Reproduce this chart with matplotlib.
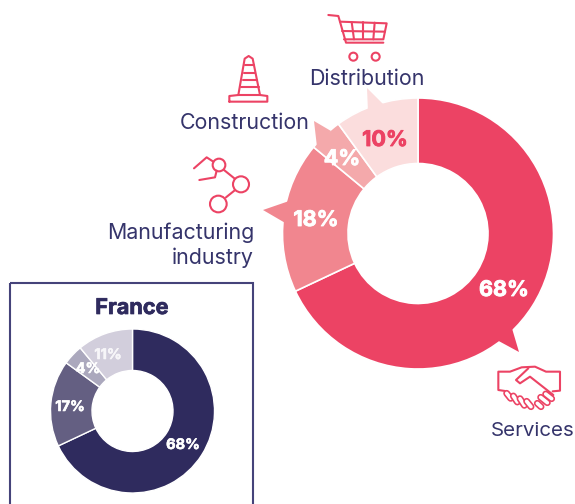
import matplotlib
matplotlib.use("Agg")
import matplotlib.pyplot as plt
import matplotlib.patheffects as pe
from matplotlib.patches import Circle, Polygon, Rectangle

W, H = 575, 504
PINK = "#EC4364"
NAVY = "#2F2B5E"
TEXT = "#35346B"
FONT = "Inter"

main_labels = ["Services", "Manufacturing industry", "Construction", "Distribution"]
main_values = [68, 18, 4, 10]
main_colors = ["#EC4364", "#F1868F", "#F4A9AB", "#FBDDDD"]
france_values = [68, 17, 4, 11]
france_colors = ["#2F2B5E", "#645F82", "#ABA8BD", "#D2CEDC"]

fig = plt.figure(figsize=(W / 100, H / 100), dpi=100, facecolor="white")


def donut(cx, cy, ro, ri, values, colors, lw):
    ax = fig.add_axes([(cx - ro) / W, 1 - (cy + ro) / H, 2 * ro / W, 2 * ro / H])
    ax.pie(values, colors=colors, startangle=90, counterclock=False, radius=1,
           wedgeprops=dict(width=1 - ri / ro, edgecolor="white", linewidth=lw))
    ax.set_xlim(-1, 1)
    ax.set_ylim(-1, 1)
    ax.set_aspect("auto")
    ax.axis("off")
    return ax


ov = fig.add_axes([0, 0, 1, 1], zorder=0)
ov.set_xlim(0, W)
ov.set_ylim(H, 0)
ov.axis("off")
ov.add_patch(Rectangle((10, 283), 243, 240, fill=False, ec="#45437A", lw=1.5, clip_on=False))

donut(418, 233.5, 135.5, 70, main_values, main_colors, 1.2)
donut(132.5, 411, 82, 40.5, france_values, france_colors, 1.0)

top = fig.add_axes([0, 0, 1, 1], zorder=5)
top.set_xlim(0, W)
top.set_ylim(H, 0)
top.axis("off")
top.patch.set_alpha(0)

# Speech-bubble pointers, joined onto the ring
for pts, col in [
    ([(367, 88), (368, 112), (385, 106)], main_colors[3]),
    ([(314, 121), (317, 147), (331, 131)], main_colors[2]),
    ([(263, 210), (287, 224), (292, 200)], main_colors[1]),
    ([(519, 352), (495, 339), (511, 325)], main_colors[0]),
]:
    top.add_patch(Polygon(pts, closed=True, fc=col, ec="none"))

# Percent labels
for x, y, s, c, fs, sw in [
    (504, 290, "68%", "white", 15.5, 0.6), (316, 220, "18%", "white", 15.5, 0.6),
    (342, 159, "4%", "white", 15.5, 0.6), (385, 140, "10%", PINK, 15.5, 0.6),
    (183, 445, "68%", "white", 10.5, 0.4), (70, 407, "17%", "white", 10.5, 0.4),
    (88, 369, "4%", "white", 10.5, 0.4), (108, 355, "11%", "#F7F6F9", 10.5, 0.4),
]:
    top.text(x, y, s, color=c, fontsize=fs, fontweight="bold", family=FONT, ha="center", va="center",
             path_effects=[pe.withStroke(linewidth=sw, foreground=c)])

# Category labels
LFS = 15.4
for x, y, s, fs in [
    (367, 79, "Distribution", LFS), (245, 123, "Construction", LFS),
    (533, 431, "Services", 14.8),
]:
    top.text(x, y, s, color=TEXT, fontsize=fs, family=FONT, ha="center", va="center")
top.text(254, 233, "Manufacturing", color=TEXT, fontsize=LFS, family=FONT, ha="right", va="center")
top.text(254, 258, "industry", color=TEXT, fontsize=LFS, family=FONT, ha="right", va="center")
top.text(132, 308, "France", color=NAVY, fontsize=15.6, fontweight="bold", family=FONT, ha="center", va="center",
         path_effects=[pe.withStroke(linewidth=0.5, foreground=NAVY)])


def path(ox, oy, pts, lw=1.5, closed=False, color=PINK):
    xs = [ox + p[0] / 3 for p in pts]
    ys = [oy + p[1] / 3 for p in pts]
    if closed:
        xs.append(xs[0])
        ys.append(ys[0])
    top.plot(xs, ys, color=color, lw=lw, solid_capstyle="round", solid_joinstyle="round")


def ring(ox, oy, x, y, r, lw=1.5):
    top.add_patch(Circle((ox + x / 3, oy + y / 3), r / 3, fc="white", ec=PINK, lw=lw))


# Cart
o = (170, 0)
path(*o, [(475, 45), (505, 48), (528, 128), (640, 128)])
path(*o, [(510, 65), (650, 70), (640, 118), (522, 118)])
path(*o, [(516, 93), (645, 95)])
for a, b in [((545, 66), (552, 118)), ((580, 67), (580, 118)), ((614, 68), (610, 118))]:
    path(*o, [a, b])
ring(*o, 550, 170, 12)
ring(*o, 617, 170, 12)

# Cone
path(*o, [(178, 305), (178, 288), (205, 285), (224, 176), (236, 168), (248, 176),
          (270, 285), (292, 288), (292, 305)], closed=True)
path(*o, [(205, 285), (270, 285)])
for a, b in [((226, 195), (252, 195)), ((222, 218), (256, 218)),
             ((218, 240), (262, 240)), ((213, 260), (268, 260))]:
    path(*o, [a, b])

# Robot arm
o = (100, 140)
path(*o, [(282, 85), (320, 52), (340, 65)])
path(*o, [(298, 120), (345, 112), (350, 92)])
path(*o, [(372, 90), (403, 115)])
path(*o, [(403, 152), (378, 172)])
ring(*o, 357, 75, 19)
ring(*o, 423, 133, 24)
ring(*o, 355, 192, 25)

# Handshake
o = (460, 320)
path(*o, [(135, 213), (115, 210), (115, 155), (150, 155), (185, 142), (225, 140),
          (258, 155), (300, 155), (300, 212), (278, 214)])
path(*o, [(205, 145), (168, 180), (180, 190), (210, 170), (280, 225)])
for a, b in [((140, 220), (152, 235)), ((160, 228), (172, 246)), ((180, 236), (193, 256)),
             ((200, 244), (213, 260)), ((232, 250), (243, 260)), ((242, 232), (262, 248)),
             ((257, 222), (275, 236))]:
    xs = [o[0] + a[0] / 3, o[0] + b[0] / 3]
    ys = [o[1] + a[1] / 3, o[1] + b[1] / 3]
    top.plot(xs, ys, color=PINK, lw=5, solid_capstyle="round")
    top.plot(xs, ys, color="white", lw=2.6, solid_capstyle="round")

fig.savefig("out.png", dpi=100, facecolor="white")
